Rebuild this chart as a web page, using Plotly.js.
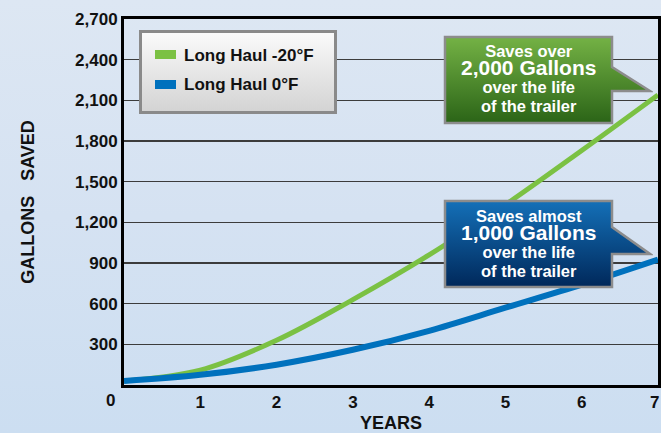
<!DOCTYPE html>
<html>
<head>
<meta charset="utf-8">
<script src="https://cdn.plot.ly/plotly-3.0.1.min.js"></script>
<style>
html,body{margin:0;padding:0;width:661px;height:433px;overflow:hidden;
background:linear-gradient(to bottom,#dde7f3 0%,#d5e2f2 50%,#ccdef1 100%);}
#chart{width:661px;height:433px;}
</style>
</head>
<body>
<div id="chart"></div>
<script>
// ---- data ----
const years = [0, 1, 2, 3, 4, 5, 6, 7];
const longHaulMinus20 = [30, 110, 330, 630, 960, 1330, 1730, 2140];
const longHaul0 = [30, 75, 150, 260, 400, 570, 740, 925];
const seriesNames = ["Long Haul -20°F", "Long Haul 0°F"];
const seriesColors = ["#7bc143", "#0071bd"];
const yTickVals = [300, 600, 900, 1200, 1500, 1800, 2100, 2400, 2700];
const xTickVals = [1, 2, 3, 4, 5, 6];
const xEdgeLabel = "7";
const greenCallout = ["Saves over", "2,000 Gallons", "over the life", "of the trailer"];
const blueCallout = ["Saves almost", "1,000 Gallons", "over the life", "of the trailer"];

// ---- geometry helpers (pixel -> paper) ----
const W = 661, H = 433;
const M = {l: 124, r: 3, t: 19, b: 48};
const PW = W - M.l - M.r, PH = H - M.t - M.b;
const px = X => (X - M.l) / PW;
const py = Y => (H - M.b - Y) / PH;

const FONT = "Liberation Sans, Arial, Helvetica, sans-serif";

function svgURI(w, h, body) {
  const s = `<svg xmlns="http://www.w3.org/2000/svg" width="${w}" height="${h}" viewBox="0 0 ${w} ${h}">${body}</svg>`;
  return "data:image/svg+xml;base64," + btoa(s);
}
function calloutSVG(pTop, pBot, c1, c2) {
  return svgURI(210, 91,
    `<defs><linearGradient id="g" x1="0" y1="0" x2="0" y2="1"><stop offset="0" stop-color="${c1}"/><stop offset="1" stop-color="${c2}"/></linearGradient></defs>` +
    `<path d="M2,2 H169 V${pTop} L207,${pBot} H169 V88 H2 Z" fill="url(#g)" stroke="#8c8c8c" stroke-width="2.5" stroke-linejoin="miter"/>`);
}
const legendSVG = svgURI(198, 84,
  `<defs><linearGradient id="g" x1="0" y1="0" x2="0" y2="1"><stop offset="0" stop-color="#fbfbfb"/><stop offset="1" stop-color="#d3d3d3"/></linearGradient></defs>` +
  `<rect x="1.5" y="1.5" width="195" height="81" fill="url(#g)" stroke="#8a8a8a" stroke-width="3"/>`);

const images = [
  {source: legendSVG, xref: "paper", yref: "paper", x: px(139), y: py(30), sizex: 198 / PW, sizey: 84 / PH,
   xanchor: "left", yanchor: "top", sizing: "stretch", layer: "above"},
  {source: calloutSVG(32, 56, "#74b245", "#2b6417"), xref: "paper", yref: "paper", x: px(443), y: py(35),
   sizex: 210 / PW, sizey: 91 / PH, xanchor: "left", yanchor: "top", sizing: "stretch", layer: "above"},
  {source: calloutSVG(28, 55, "#1470b8", "#00285a"), xref: "paper", yref: "paper", x: px(443), y: py(199),
   sizex: 210 / PW, sizey: 91 / PH, xanchor: "left", yanchor: "top", sizing: "stretch", layer: "above"}
];

const shapes = [
  {type: "rect", xref: "paper", yref: "paper", x0: px(155), x1: px(176), y0: py(50), y1: py(59),
   fillcolor: seriesColors[0], line: {width: 0}, layer: "above"},
  {type: "rect", xref: "paper", yref: "paper", x0: px(155), x1: px(176), y0: py(80), y1: py(89),
   fillcolor: seriesColors[1], line: {width: 0}, layer: "above"}
];

const annotations = [];
function txt(t, X, Y, size, color, anchor) {
  annotations.push({text: t, xref: "paper", yref: "paper", x: px(X), y: py(Y), xanchor: anchor || "center",
    yanchor: "middle", showarrow: false, font: {family: FONT, size: size, color: color, weight: 700}});
}
txt(seriesNames[0], 182, 55, 17, "#111", "left");
txt(seriesNames[1], 182, 85, 17, "#111", "left");
const cSize = [16.5, 21, 16.5, 16.5];
function callout(lines, X, Y) {
  const t = lines.map((s, i) => `<span style="font-size:${cSize[i]}px">${s}</span>`).join("<br>");
  txt(t, X, Y, 14, "#ffffff");
}
callout(greenCallout, 528, 79);
callout(blueCallout, 528, 243);
txt("0", 110.5, 400.5, 17, "#111");
txt(xEdgeLabel, 654, 402, 17, "#111");

const traces = [
  {x: years, y: longHaulMinus20, name: seriesNames[0], type: "scatter", mode: "lines",
   line: {color: seriesColors[0], width: 5, shape: "spline", smoothing: 1}},
  {x: years, y: longHaul0, name: seriesNames[1], type: "scatter", mode: "lines",
   line: {color: seriesColors[1], width: 6, shape: "spline", smoothing: 1}}
];

const layout = {
  width: W, height: H,
  margin: M,
  paper_bgcolor: "rgba(0,0,0,0)",
  plot_bgcolor: "rgba(0,0,0,0)",
  showlegend: false,
  font: {family: FONT, color: "#111"},
  xaxis: {
    range: [0, 7], tickvals: xTickVals, ticks: "", showgrid: false, zeroline: false,
    showline: true, linecolor: "#000", linewidth: 3, mirror: true,
    tickfont: {family: FONT, size: 17, color: "#111", weight: 700},
    title: {text: "YEARS", font: {family: FONT, size: 18, color: "#111", weight: 700}, standoff: 6}
  },
  yaxis: {
    range: [0, 2700], tickvals: yTickVals, tickformat: ",", ticks: "", zeroline: false,
    showgrid: true, gridcolor: "#3c3c3c", gridwidth: 1.2,
    showline: true, linecolor: "#000", linewidth: 3, mirror: true,
    tickfont: {family: FONT, size: 17, color: "#111", weight: 700},
    title: {text: "GALLONS\u00a0\u00a0\u00a0SAVED", font: {family: FONT, size: 18, color: "#111", weight: 700}, standoff: 36}
  },
  images: images,
  shapes: shapes,
  annotations: annotations
};

Plotly.newPlot("chart", traces, layout, {displayModeBar: false, staticPlot: true});
</script>
</body>
</html>
